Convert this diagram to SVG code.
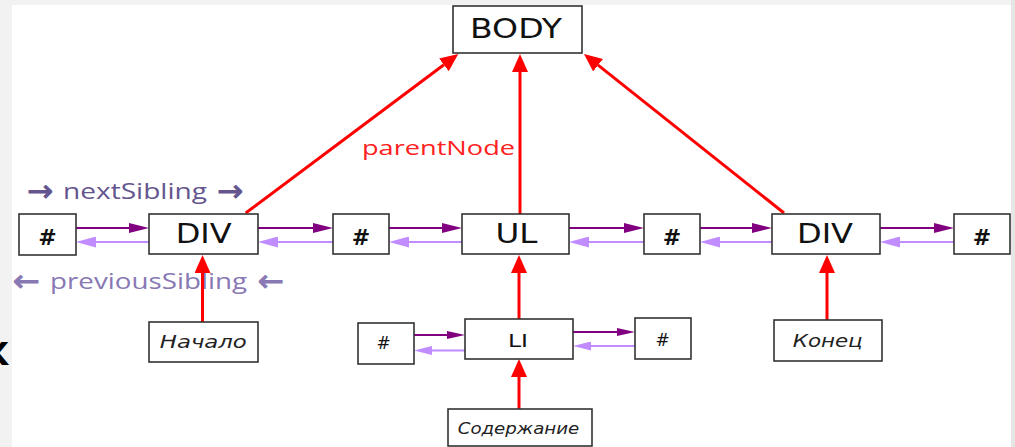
<svg xmlns="http://www.w3.org/2000/svg" width="1015" height="447" viewBox="0 0 1015 447">
  <style>
    .box { fill: #ffffff; stroke: #333333; stroke-width: 1.6; }
    .lbl { font-family: "DejaVu Sans", "Liberation Sans", sans-serif; fill: #111111; text-anchor: middle; }
    .ital { font-family: "DejaVu Sans", "Liberation Sans", sans-serif; font-style: italic; fill: #222222; text-anchor: middle; }
    .hash { font-weight: bold; }
    .cap { font-family: "Open Sans", "Liberation Sans", sans-serif; }
    .arw { font-family: "DejaVu Sans", "Liberation Sans", sans-serif; stroke-width: 0.9; }
    .red { stroke: #ff0000; stroke-width: 3; fill: none; }
    .next { stroke: #800080; stroke-width: 2; fill: none; }
    .prev { stroke: #c08cff; stroke-width: 2; fill: none; }
  </style>
  <defs>
    <marker id="redHead" markerUnits="userSpaceOnUse" markerWidth="18" markerHeight="16" refX="0" refY="8" orient="auto">
      <path d="M0,0 L18,8 L0,16 z" fill="#ff0000"/>
    </marker>
    <marker id="nextHead" markerUnits="userSpaceOnUse" markerWidth="20" markerHeight="10" refX="0" refY="5" orient="auto">
      <path d="M0,0 L20,5 L0,10 z" fill="#800080"/>
    </marker>
    <marker id="prevHead" markerUnits="userSpaceOnUse" markerWidth="20" markerHeight="11" refX="0" refY="5.5" orient="auto">
      <path d="M0,0 L20,5.5 L0,11 z" fill="#c08cff"/>
    </marker>
    <marker id="nextHeadSm" markerUnits="userSpaceOnUse" markerWidth="18" markerHeight="8" refX="0" refY="4" orient="auto">
      <path d="M0,0 L18,4 L0,8 z" fill="#800080"/>
    </marker>
    <marker id="prevHeadSm" markerUnits="userSpaceOnUse" markerWidth="18" markerHeight="9" refX="0" refY="4.5" orient="auto">
      <path d="M0,0 L18,4.5 L0,9 z" fill="#c08cff"/>
    </marker>
  </defs>

  <!-- page backdrop -->
  <rect x="0" y="0" width="1015" height="447" fill="#f2f2f2"/>
  <rect x="1011" y="0" width="4" height="447" fill="#e6e6e6"/>
  <rect x="12" y="5" width="999" height="442" fill="#ffffff"/>
  <text x="-17" y="365" font-family="Open Sans, Liberation Sans, sans-serif" font-weight="bold" font-size="42" fill="#000000">к</text>

  <!-- legend labels -->
  <g fill="#65558f" stroke="#65558f">
    <text class="arw" x="27" y="201" font-size="30" textLength="26" lengthAdjust="spacingAndGlyphs">→</text>
    <text class="cap" x="63" y="199" font-size="21" stroke="none" textLength="144" lengthAdjust="spacingAndGlyphs">nextSibling</text>
    <text class="arw" x="217" y="201" font-size="30" textLength="26" lengthAdjust="spacingAndGlyphs">→</text>
  </g>
  <g fill="#8878b3" stroke="#8878b3">
    <text class="arw" x="13" y="291" font-size="30" textLength="27" lengthAdjust="spacingAndGlyphs">←</text>
    <text class="cap" x="50" y="289" font-size="21" stroke="none" textLength="197" lengthAdjust="spacingAndGlyphs">previousSibling</text>
    <text class="arw" x="258" y="291" font-size="30" textLength="26" lengthAdjust="spacingAndGlyphs">←</text>
  </g>
  <text class="cap" x="362" y="155" font-size="19.5" fill="#ff2020" textLength="153" lengthAdjust="spacingAndGlyphs">parentNode</text>

  <!-- connectors -->
  <g id="connectors">
    <!-- parentNode links -->
    <line class="red" x1="245.7" y1="213" x2="443.9" y2="64.8" marker-end="url(#redHead)"/>
    <line class="red" x1="520" y1="214" x2="520" y2="72" marker-end="url(#redHead)"/>
    <line class="red" x1="784" y1="213" x2="598.1" y2="65.2" marker-end="url(#redHead)"/>
    <line class="red" x1="202.5" y1="322" x2="202.5" y2="273" marker-end="url(#redHead)"/>
    <line class="red" x1="827" y1="320" x2="827" y2="273" marker-end="url(#redHead)"/>
    <line class="red" x1="519" y1="319" x2="519" y2="273" marker-end="url(#redHead)"/>
    <line class="red" x1="519" y1="409" x2="519" y2="377" marker-end="url(#redHead)"/>

    <!-- nextSibling links, top row -->
    <line class="next" x1="76" y1="228" x2="129" y2="228" marker-end="url(#nextHead)"/>
    <line class="next" x1="258" y1="228" x2="313" y2="228" marker-end="url(#nextHead)"/>
    <line class="next" x1="389" y1="228" x2="442" y2="228" marker-end="url(#nextHead)"/>
    <line class="next" x1="569" y1="228" x2="624" y2="228" marker-end="url(#nextHead)"/>
    <line class="next" x1="700" y1="228" x2="752" y2="228" marker-end="url(#nextHead)"/>
    <line class="next" x1="880" y1="228" x2="934" y2="228" marker-end="url(#nextHead)"/>

    <!-- previousSibling links, top row -->
    <line class="prev" x1="149" y1="242" x2="96" y2="242" marker-end="url(#prevHead)"/>
    <line class="prev" x1="333" y1="242" x2="278" y2="242" marker-end="url(#prevHead)"/>
    <line class="prev" x1="462" y1="242" x2="409" y2="242" marker-end="url(#prevHead)"/>
    <line class="prev" x1="644" y1="242" x2="589" y2="242" marker-end="url(#prevHead)"/>
    <line class="prev" x1="772" y1="242" x2="720" y2="242" marker-end="url(#prevHead)"/>
    <line class="prev" x1="954" y1="242" x2="900" y2="242" marker-end="url(#prevHead)"/>

    <!-- sibling links around LI -->
    <line class="next" x1="414" y1="335" x2="447" y2="335" marker-end="url(#nextHeadSm)"/>
    <line class="prev" x1="465" y1="350.5" x2="432" y2="350.5" marker-end="url(#prevHeadSm)"/>
    <line class="next" x1="573" y1="332" x2="617" y2="332" marker-end="url(#nextHeadSm)"/>
    <line class="prev" x1="635" y1="346" x2="591" y2="346" marker-end="url(#prevHeadSm)"/>
  </g>

  <!-- nodes -->
  <g id="body">
    <rect class="box" x="453" y="6" width="129" height="47"/>
    <text class="lbl" x="516" y="38.3" font-size="27" textLength="92" lengthAdjust="spacingAndGlyphs">BODY</text>
  </g>

  <g id="text-1">
    <rect class="box" x="19" y="214" width="57" height="41"/>
    <text class="lbl hash" x="47.5" y="245" font-size="22">#</text>
  </g>
  <g id="div-1">
    <rect class="box" x="149" y="214" width="109" height="40"/>
    <text class="lbl" x="203.7" y="243.3" font-size="26" textLength="56" lengthAdjust="spacingAndGlyphs">DIV</text>
  </g>
  <g id="text-2">
    <rect class="box" x="333" y="214" width="56" height="40"/>
    <text class="lbl hash" x="361" y="245" font-size="22">#</text>
  </g>
  <g id="ul">
    <rect class="box" x="462" y="214" width="107" height="40"/>
    <text class="lbl" x="516.5" y="243.3" font-size="27" textLength="42" lengthAdjust="spacingAndGlyphs">UL</text>
  </g>
  <g id="text-3">
    <rect class="box" x="644" y="214" width="56" height="40"/>
    <text class="lbl hash" x="672" y="245" font-size="22">#</text>
  </g>
  <g id="div-2">
    <rect class="box" x="772" y="214" width="108" height="40"/>
    <text class="lbl" x="825" y="242.7" font-size="26" textLength="56" lengthAdjust="spacingAndGlyphs">DIV</text>
  </g>
  <g id="text-4">
    <rect class="box" x="954" y="214" width="56" height="40"/>
    <text class="lbl hash" x="982" y="245" font-size="22">#</text>
  </g>

  <g id="start">
    <rect class="box" x="149" y="322" width="109" height="40"/>
    <text class="ital" x="203.3" y="348.3" font-size="18" textLength="87" lengthAdjust="spacingAndGlyphs">Начало</text>
  </g>
  <g id="li-text-left">
    <rect class="box" x="358" y="323" width="56" height="41"/>
    <text class="lbl" x="383.5" y="349.3" font-size="17">#</text>
  </g>
  <g id="li">
    <rect class="box" x="465" y="319" width="108" height="40"/>
    <text class="lbl" x="518" y="346.7" font-size="18.5" textLength="20" lengthAdjust="spacingAndGlyphs">LI</text>
  </g>
  <g id="li-text-right">
    <rect class="box" x="635" y="318" width="56" height="41"/>
    <text class="lbl" x="662.5" y="346" font-size="17">#</text>
  </g>
  <g id="end">
    <rect class="box" x="774" y="320" width="108" height="41"/>
    <text class="ital" x="827.7" y="346.7" font-size="18" textLength="70" lengthAdjust="spacingAndGlyphs">Конец</text>
  </g>
  <g id="content">
    <rect class="box" x="448" y="409" width="144" height="37"/>
    <text class="ital" x="518.5" y="434.3" font-size="16" textLength="121.6" lengthAdjust="spacingAndGlyphs">Содержание</text>
  </g>
</svg>
